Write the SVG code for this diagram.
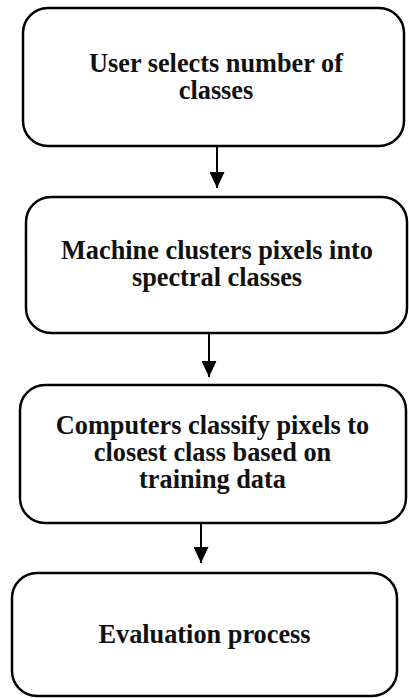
<svg xmlns="http://www.w3.org/2000/svg" width="409" height="698" viewBox="0 0 409 698">
<style>
.box{fill:#fff;stroke:#000;stroke-width:2.5}
.t{font-family:"Liberation Serif","Times New Roman",serif;font-weight:bold;font-size:26.3px;fill:#111;text-anchor:middle}
.c{stroke:#000;stroke-width:2;fill:none}
</style>
<defs>
<marker id="ah" viewBox="0 0 16 15" refX="16" refY="7.5" markerWidth="16" markerHeight="15" markerUnits="userSpaceOnUse" orient="auto">
<path d="M0,0 L16,7.5 L0,15 Z" fill="#000"/>
</marker>
</defs>
<rect width="409" height="698" fill="#fff"/>
<g id="connectors">
<line class="c" x1="217" y1="146" x2="217" y2="188" marker-end="url(#ah)"/>
<line class="c" x1="209" y1="333" x2="209" y2="377" marker-end="url(#ah)"/>
<line class="c" x1="201" y1="523" x2="201" y2="563" marker-end="url(#ah)"/>
</g>
<g id="node1">
<rect class="box" x="23" y="8" width="381" height="138" rx="25"/>
<text class="t" x="216" y="72">User selects number of</text>
<text class="t" x="216" y="99">classes</text>
</g>
<g id="node2">
<rect class="box" x="26" y="197" width="381" height="136" rx="25"/>
<text class="t" x="217" y="259">Machine clusters pixels into</text>
<text class="t" x="217" y="286">spectral classes</text>
</g>
<g id="node3">
<rect class="box" x="20" y="385" width="386" height="138" rx="25"/>
<text class="t" x="212.5" y="434">Computers classify pixels to</text>
<text class="t" x="212.5" y="461">closest class based on</text>
<text class="t" x="212.5" y="488">training data</text>
</g>
<g id="node4">
<rect class="box" x="12" y="573" width="385" height="123" rx="25"/>
<text class="t" x="204.5" y="643">Evaluation process</text>
</g>
</svg>
